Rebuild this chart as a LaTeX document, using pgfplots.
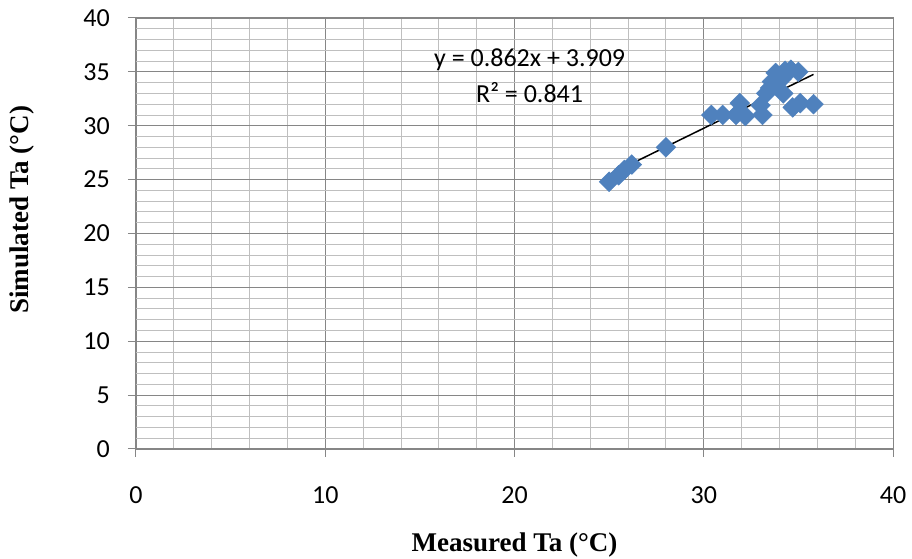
\documentclass[border=0pt]{standalone}
\usepackage{fontspec}
\setmainfont{Carlito}
\newfontfamily\labelfont{Liberation Serif}
\usepackage{pgfplots}
\pgfplotsset{compat=1.18}
\definecolor{markblue}{HTML}{4F81BD}
\definecolor{gridmajor}{HTML}{868686}
\definecolor{gridminor}{HTML}{BFBFBF}

\pgfplotstableread{
x y
25.0 24.8
25.5 25.4
25.8 25.9
26.2 26.4
28.0 28.0
30.4 31.0
31.0 31.0
31.7 31.0
31.9 32.1
32.2 30.9
33.0 31.9
33.1 31.0
33.3 33.0
33.5 33.5
33.6 34.1
33.8 34.9
33.8 34.0
34.1 34.3
34.2 33.0
34.3 35.1
34.6 35.2
35.0 35.0
34.7 31.7
35.1 32.1
35.8 32.0
}\measured

\begin{document}
\begin{tikzpicture}
\begin{axis}[
  scale only axis,
  width=757bp, height=431bp,
  xmin=0, xmax=40, ymin=0, ymax=40,
  xtick={0,10,...,40}, ytick={0,5,...,40},
  minor x tick num=4, minor y tick num=4,
  grid=both,
  major grid style={gridmajor, line width=0.9bp},
  minor grid style={gridminor, line width=0.9bp},
  axis line style={gridmajor, line width=1bp},
  tick align=outside,
  major tick length=8bp, minor tick length=0pt,
  tick style={gridmajor, line width=1bp},
  xtick pos=bottom, ytick pos=left,
  /pgf/number format/assume math mode=true,
  tick label style={font=\fontsize{26bp}{30bp}\selectfont},
  yticklabel style={anchor=east, inner sep=0pt, xshift=-18bp},
  xticklabel style={anchor=north, inner sep=0pt, yshift=-29bp},
  xlabel={Measured Ta (°C)},
  ylabel={Simulated Ta (°C)},
  label style={font=\labelfont\bfseries\fontsize{27bp}{31bp}\selectfont},
  xlabel style={at={(rel axis cs:0.5,0)}, anchor=center, yshift=-96bp},
  ylabel style={at={(rel axis cs:0,0.555)}, anchor=center, yshift=114bp},
]
\addplot[only marks, mark=square*, mark size=7bp,
  mark options={rotate=45, fill=markblue, draw=markblue}] table {\measured};
\addplot[black, line width=1.5bp] coordinates {(25.0,25.459) (35.8,34.769)};
\node[font=\fontsize{26bp}{30bp}\selectfont] at (axis cs:20.8,36.1) {y = 0.862x + 3.909};
\node[font=\fontsize{26bp}{30bp}\selectfont] at (axis cs:20.8,33.1) {R² = 0.841};
\coordinate (bl) at (rel axis cs:0,0);
\coordinate (tr) at (rel axis cs:1,1);
\end{axis}
\pgfresetboundingbox
\path[use as bounding box] ([shift={(-136bp,-110bp)}]bl) rectangle ([shift={(19bp,18bp)}]tr);
\end{tikzpicture}
\end{document}
